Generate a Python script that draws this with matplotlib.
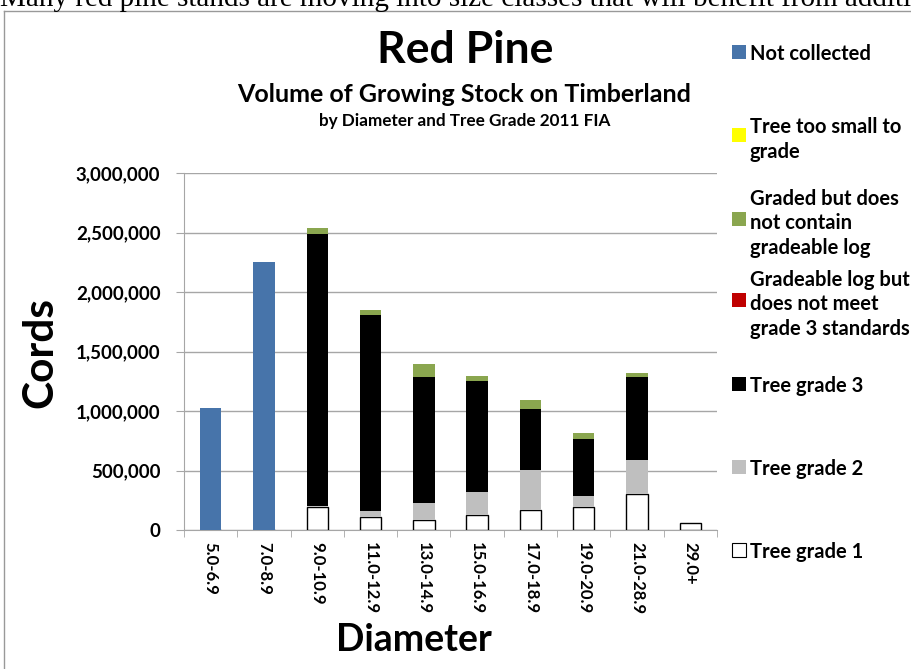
import numpy as np
import matplotlib.pyplot as plt
from matplotlib.patches import Rectangle
from matplotlib.lines import Line2D
from matplotlib.ticker import FuncFormatter, FixedLocator

# diameter classes and cords per tree grade (bottom to top of each stack)
diameters = ['5.0-6.9', '7.0-8.9', '9.0-10.9', '11.0-12.9', '13.0-14.9',
             '15.0-16.9', '17.0-18.9', '19.0-20.9', '21.0-28.9', '29.0+']
grade1 = [0, 0, 196000, 107000, 84000, 123000, 168000, 193000, 303000, 59000]
grade2 = [0, 0, 8000, 55000, 146000, 194000, 334000, 96000, 283000, 0]
grade3 = [0, 0, 2283000, 1642000, 1056000, 935000, 512000, 479000, 700000, 0]
below_grade3 = [0, 0, 0, 0, 0, 0, 0, 0, 0, 0]
no_gradeable_log = [0, 0, 51000, 47000, 111000, 42000, 78000, 44000, 36000, 0]
too_small = [0, 0, 0, 0, 0, 0, 0, 0, 0, 0]
not_collected = [1023000, 2250000, 0, 0, 0, 0, 0, 0, 0, 0]

labels = ['Tree grade 1', 'Tree grade 2', 'Tree grade 3',
          'Gradeable log but\ndoes not meet\ngrade 3 standards',
          'Graded but does\nnot contain\ngradeable log',
          'Tree too small to\ngrade', 'Not collected']
values = [grade1, grade2, grade3, below_grade3, no_gradeable_log, too_small, not_collected]
colors = ['white', '#BFBFBF', 'black', '#C00000', '#8AA64F', '#FFFF00', '#4774AA']

W, H = 912, 669
FONT = 'Lato'


def px(x, y):
    return x / W, 1 - y / H


fig = plt.figure(figsize=(W / 100, H / 100), dpi=100)
ax = fig.add_axes([184 / W, 1 - 530 / H, (717 - 184) / W, (530 - 173) / H])

x = np.arange(len(diameters))
bottom = np.zeros(len(diameters))
for lab, vals, col in zip(labels, values, colors):
    vals = np.array(vals, dtype=float)
    edge = 'black' if col == 'white' else 'none'
    ax.bar(x, vals, 0.4, bottom=bottom, color=col, edgecolor=edge,
           linewidth=1, zorder=3)
    bottom += vals

ax.set_xlim(-0.5, len(diameters) - 0.5)
ax.set_ylim(0, 3000000)
ax.set_yticks(np.arange(0, 3000001, 500000))
ax.yaxis.set_major_formatter(FuncFormatter(lambda v, p: f'{int(v):,}'))
ax.grid(axis='y', color='#A6A6A6', linewidth=1, zorder=0)
ax.set_xticks(x)
ax.set_xticklabels(diameters, rotation=270, fontfamily=FONT,
                   fontweight='bold', fontsize=12)
ax.xaxis.set_minor_locator(FixedLocator(np.arange(-0.5, len(diameters), 1)))
ax.tick_params(axis='x', which='major', length=0, pad=9)
ax.tick_params(axis='x', which='minor', length=5, color='#A6A6A6')
ax.tick_params(axis='y', length=6, color='#A6A6A6', pad=11)
for t in ax.get_yticklabels():
    t.set_fontfamily(FONT)
    t.set_fontweight('bold')
    t.set_fontsize(13.5)
for s in ['top', 'right']:
    ax.spines[s].set_visible(False)
for s in ['left', 'bottom']:
    ax.spines[s].set_color('#A6A6A6')

# titles and axis titles
fig.text(*px(465, 50), 'Red Pine', ha='center', va='center',
         fontfamily=FONT, fontweight='bold', fontsize=32)
fig.text(*px(464, 94), 'Volume of Growing Stock on Timberland', ha='center',
         va='center', fontfamily=FONT, fontweight='bold', fontsize=18)
fig.text(*px(465, 121), 'by Diameter and Tree Grade 2011 FIA', ha='center',
         va='center', fontfamily=FONT, fontweight='bold', fontsize=12.3)
fig.text(*px(40, 352), 'Cords', ha='center', va='center', rotation=90,
         fontfamily=FONT, fontweight='bold', fontsize=30.5)
fig.text(*px(414, 640), 'Diameter', ha='center', va='center',
         fontfamily=FONT, fontweight='bold', fontsize=27)

# legend, drawn by hand to match the uneven spacing
row_y = [550, 467, 384, 300, 219, 135, 52]
for lab, col, yy in zip(labels, colors, row_y):
    fx, fy = px(732, yy + 7)
    fig.add_artist(Rectangle((fx, fy), 14 / W, 14 / H, transform=fig.transFigure,
                             facecolor=col,
                             edgecolor='black' if col == 'white' else 'none',
                             linewidth=0.8))
    fig.text(*px(750, yy), lab, ha='left', va='center_baseline',
             fontfamily=FONT, fontweight='bold', fontsize=14.5, linespacing=1.3)

# frame of the pasted chart and the cut-off body text above it
fig.add_artist(Line2D([4.5 / W, 4.5 / W], [0, 1 - 10.5 / H], transform=fig.transFigure,
                      color='#999999', linewidth=1))
fig.add_artist(Line2D([4.5 / W, 1], [1 - 10.5 / H, 1 - 10.5 / H],
                      transform=fig.transFigure, color='#999999', linewidth=1))
fig.text(*px(0, 6), 'Many red pine stands are moving into size classes that will '
         'benefit from additional thinning', ha='left', va='baseline',
         fontfamily='Liberation Serif', fontsize=21)

fig.savefig('out.png', dpi=100)
